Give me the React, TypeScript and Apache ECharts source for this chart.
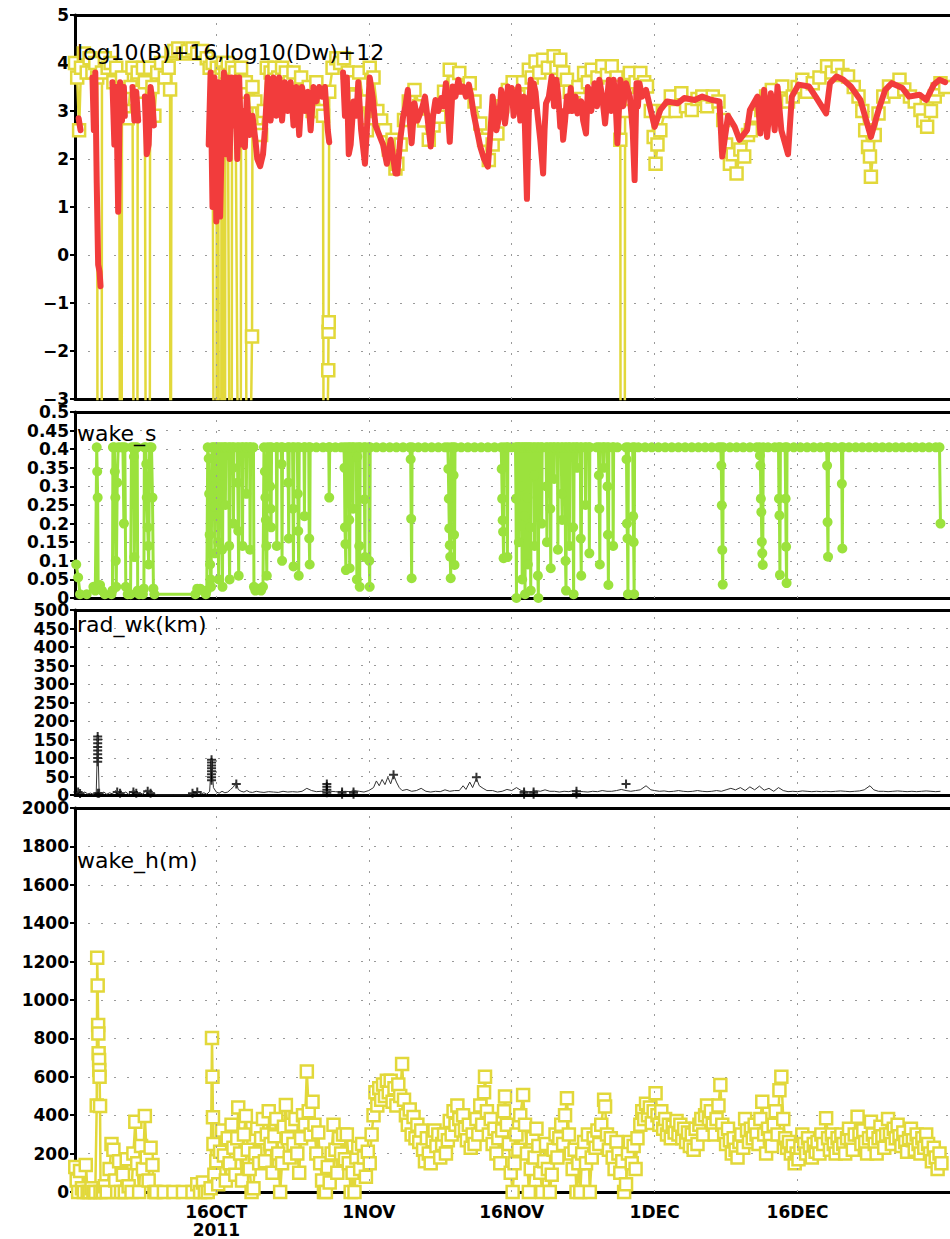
import React, { useEffect, useRef } from "react";
import * as echarts from "echarts";

// x values are days since 1 Oct 2011 00Z
const X_MIN = 0.17;
const X_MAX = 92;
const DATE_TICKS = [15, 31, 46, 61, 76];
const DATE_LABELS = ["16OCT\n2011", "1NOV", "16NOV", "1DEC", "16DEC"];

// log10(B)+16 (yellow squares)
const B_SERIES: [number, number | null][] = [
  [0.17,4.0],[0.4,3.7],[0.6,2.6],[0.8,3.9],[1.1,4.2],[1.4,3.8],[1.7,4.1],[2.0,3.8],[2.3,4.0],[2.5,3.7],[2.55,-10],[2.95,-10],[3.0,3.8],[3.3,4.1],[3.6,3.9],[3.9,4.0],[4.2,3.6],[4.5,3.9],[4.8,3.5],[4.95,-10],[5.05,-10],[5.1,3.7],[5.4,3.0],[5.7,2.85],[6.0,3.5],[6.2,3.9],[6.4,-10],[6.7,-10],[6.75,3.8],[7.0,3.4],[7.3,3.9],[7.5,3.6],[7.65,-10],[8.0,-10],[8.05,3.9],[8.3,3.5],[8.5,2.9],[8.8,3.8],[9.2,4.0],[9.6,3.7],[10.0,3.9],[10.15,3.45],[10.2,-10],[10.25,-10],[10.3,4.2],[10.6,4.25],[11.0,4.3],[11.5,4.2],[12.0,4.25],[12.5,4.3],[13.0,4.2],[13.5,4.25],[14.0,4.1],[14.3,3.9],[14.6,4.0],[14.8,-10],[15.0,-10],[15.05,3.9],[15.2,3.7],[15.3,-10],[15.5,-10],[15.55,3.9],[15.7,4.0],[15.8,-10],[15.9,-10],[15.95,3.8],[16.2,4.0],[16.5,-10],[16.6,-10],[16.65,3.9],[17.0,3.8],[17.45,-10],[17.55,-10],[17.6,3.9],[17.9,3.4],[18.1,3.6],[18.2,-10],[18.75,-1.7],[18.8,3.5],[19.1,3.2],[19.4,2.6],[19.7,2.5],[20.0,3.0],[20.3,3.9],[20.7,3.8],[21.1,3.9],[21.5,3.7],[21.9,3.9],[22.3,3.8],[22.7,3.6],[23.1,3.8],[23.5,3.3],[23.9,3.7],[24.3,3.2],[24.7,3.5],[25.1,3.0],[25.5,3.6],[25.9,3.0],[26.2,2.9],[26.3,-10],[26.75,-2.4],[26.78,-1.6],[26.8,-1.4],[26.85,3.4],[27.2,3.9],[27.6,4.1],[28.0,4.0],[28.4,4.1],[28.8,3.8],[29.2,3.6],[29.6,3.3],[30.0,3.8],[30.4,3.2],[30.8,2.6],[31.1,3.9],[31.5,3.7],[31.9,3.0],[32.3,2.8],[32.7,2.6],[33.1,2.2],[33.5,2.4],[33.8,1.8],
  [34.0,1.9],[34.35,2.3],[34.7,2.81],[35.2,3.2],[35.8,3.44],[36.3,3.1],[36.8,2.8],[37.3,2.4],[37.8,2.7],[38.4,2.88],[38.9,3.4],[39.5,3.86],[40.0,3.6],[40.5,3.79],[41.0,3.5],[41.6,3.58],[42.1,3.2],[42.7,2.74],[43.1,2.4],[43.6,1.98],[44.0,2.3],[44.5,2.53],[45.0,3.1],[45.6,3.44],[46.1,3.6],[46.7,3.3],[47.2,3.6],[47.8,3.86],[48.1,3.7],[48.5,4.03],[48.9,3.8],[49.3,4.07],[49.8,3.9],[50.4,4.14],[50.7,3.9],[51.1,4.07],[51.4,3.8],[51.8,3.65],[52.1,3.4],[52.5,3.16],[53.0,3.5],[53.6,3.79],[54.0,3.6],[54.4,3.86],[55.0,3.7],[55.5,3.93],[56.0,3.75],[56.5,3.93],[57.0,3.7],[57.3,3.5],[57.4,2.4],[57.45,-10],[57.85,-10],[57.9,3.0],[58.1,3.5],[58.4,3.79],[59.0,3.6],[59.5,3.79],[59.9,3.6],[60.2,3.51],[60.6,3.0],[60.9,2.46],[61.1,1.9],[61.3,2.3],[61.6,2.6],[62.1,3.0],[62.7,3.3],[63.2,3.0],[63.8,3.37],[64.3,3.1],[64.9,3.02],[65.5,3.25],[66.0,3.3],[66.5,3.1],[67.1,3.3],[67.7,3.2],[68.2,2.81],[68.5,2.3],[68.9,1.9],[69.2,2.1],[69.6,1.7],[70.0,2.2],[70.4,2.05],[70.8,2.5],[71.1,2.6],[71.6,2.9],[72.2,3.02],[72.7,3.3],[73.3,3.44],[73.8,3.2],[74.4,3.51],[75.0,3.2],[75.5,3.3],[76.0,3.5],[76.5,3.65],[77.0,3.4],[77.6,3.58],[78.3,3.7],[79.1,3.93],[79.6,3.8],[80.2,3.93],[80.7,3.75],[81.3,3.72],[81.9,3.5],[82.4,3.3],[82.8,3.0],[83.1,2.6],[83.4,2.25],[83.6,2.05],[83.7,1.63],[84.1,2.5],[84.5,2.95],[85.0,3.3],[85.6,3.51],[86.1,3.4],[86.7,3.65],[87.2,3.45],[87.8,3.3],[88.3,3.2],[88.9,3.02],[89.2,2.8],[89.6,2.67],[90.0,3.0],[90.4,3.3],[90.7,3.45],[91.0,3.58],[91.5,3.5]
];

// log10(Dw)+12 (red line)
const DW_SERIES: [number, number | null][] = [
  [0.55,2.85],[0.75,2.6],[1.0,null],
  [2.0,3.7],[2.15,2.6],[2.3,3.8],[2.45,1.5],[2.6,-0.2],[2.75,-0.35],[2.85,-0.65],[3.0,null],
  [4.1,3.6],[4.3,2.3],[4.5,3.5],[4.7,0.9],[4.9,3.6],[5.1,2.8],[5.3,3.5],[5.4,2.9],[5.6,null],
  [6.2,3.5],[6.4,2.8],[6.6,3.4],[6.8,2.8],[7.0,null],
  [7.5,3.3],[7.7,2.1],[7.9,2.3],[8.1,3.5],[8.3,3.2],[8.45,2.7],[8.7,null],
  [14.2,2.3],[14.4,3.8],[14.6,1.0],[14.8,3.7],[15.0,0.7],[15.2,3.6],[15.4,0.8],[15.6,2.7],[15.8,3.8],[16.0,2.1],[16.2,3.7],[16.4,2.0],[16.6,3.7],[16.8,2.7],[17.0,3.7],[17.2,2.0],[17.4,3.7],[17.6,2.3],[17.8,3.0],[18.0,2.25],[18.2,3.3],[18.5,2.5],[18.8,2.9],[19.1,2.4],[19.3,2.0],[19.6,1.85],[19.9,2.1],
  [20.1,2.6],[20.4,3.7],[20.7,2.8],[21.0,3.7],[21.3,2.9],[21.6,3.7],[21.9,2.8],[22.2,3.6],[22.5,3.0],[22.8,3.6],[23.1,2.7],[23.4,3.5],[23.7,2.5],[24.0,3.5],[24.3,3.0],[24.6,3.4],[24.9,2.6],[25.2,3.5],[25.5,3.2],[25.8,3.5],[26.1,3.3],[26.4,3.5],[26.7,2.6],[26.85,2.35],[27.0,null],
  [28.3,3.8],[28.5,2.9],[28.7,3.7],[28.9,2.1],[29.1,2.3],[29.4,3.2],[29.7,2.9],[29.9,3.6],[30.2,2.6],[30.6,1.9],[30.8,2.6],[31.1,3.7],[31.4,3.3],[31.7,2.7],[32.1,2.5],[32.5,2.3],[32.9,1.9],[33.3,2.4],[33.8,1.7],
  [34.0,1.7],[34.3,2.4],[34.6,2.88],[34.85,3.1],[35.1,3.44],[35.3,2.8],[35.5,2.33],[35.8,3.16],[36.1,2.8],[36.4,2.95],[36.65,3.1],[36.9,3.3],[37.2,2.8],[37.5,2.26],[37.75,2.9],[38.0,3.23],[38.3,3.0],[38.6,3.27],[38.85,3.1],[39.1,3.58],[39.3,3.0],[39.5,2.36],[39.8,3.51],[40.1,3.3],[40.4,3.65],[40.65,3.4],[40.9,3.51],[41.2,3.3],[41.5,3.55],[41.75,3.3],[42.0,2.95],[42.35,2.6],[42.7,2.26],[43.1,2.0],[43.5,1.84],[43.75,2.5],[44.0,3.3],[44.2,3.0],[44.4,2.6],[44.7,2.9],[44.9,3.44],[45.1,3.2],[45.3,2.74],[45.45,3.0],[45.6,3.51],[45.8,3.2],[46.0,3.48],[46.2,2.9],[46.4,3.16],[46.55,3.3],[46.7,3.51],[46.9,2.8],[47.1,3.02],[47.3,3.3],[47.6,1.17],[47.8,3.0],[48.0,3.65],[48.15,3.1],[48.3,3.58],[48.5,3.4],[48.7,2.95],[49.0,2.4],[49.3,1.7],[49.45,2.6],[49.6,3.16],[49.9,3.3],[50.2,3.72],[50.45,3.1],[50.7,3.65],[50.9,3.3],[51.1,2.67],[51.25,3.0],[51.4,2.4],[51.6,2.8],[51.8,3.3],[52.0,3.0],[52.2,3.48],[52.35,3.0],[52.5,3.23],[52.7,3.3],[52.9,2.95],[53.3,3.2],[53.5,2.8],[53.8,2.53],[54.0,3.5],[54.35,3.0],[54.7,3.58],[54.95,3.1],[55.2,3.65],[55.5,3.3],[55.8,2.74],[56.0,3.2],[56.2,3.65],[56.45,3.0],[56.7,3.65],[56.9,3.2],[57.1,2.33],[57.25,3.0],[57.4,3.65],[57.7,3.1],[58.0,3.58],[58.4,3.3],[58.7,2.6],[58.9,1.56],[59.1,3.58],[59.25,3.1],[59.4,3.58],[59.7,3.3],
  [60.1,3.44],[61.0,2.67],[61.6,3.02],[62.3,3.2],[63.4,3.16],[64.1,3.27],[65.2,3.23],[66.0,3.3],[67.0,3.23],[67.8,3.2],[68.1,2.05],[68.7,2.9],[69.4,2.67],[69.9,2.4],[70.7,2.6],[71.0,3.02],[71.8,3.3],[72.1,2.53],[72.5,3.44],[72.8,2.46],[73.2,3.37],[73.6,2.6],[73.9,3.51],[74.3,2.6],[75.0,2.1],[75.4,3.3],[76.1,3.55],[77.2,3.51],[77.9,3.3],[79.0,2.95],[79.4,3.58],[80.1,3.72],[80.8,3.65],[81.6,3.51],[82.6,3.23],[83.7,2.46],[84.5,3.02],[85.2,3.44],[85.9,3.58],[87.0,3.48],[87.7,3.3],[88.8,3.34],[89.5,3.23],[90.3,3.55],[90.9,3.65],[91.5,3.6]
];

// wake_s (green)
const WAKE_S: [number, number][] = [
  [0.3,0.09],[0.5,0.055],[0.7,0.01],[1.4,0.01],[2.1,0.03],[2.3,0.02],[2.45,0.405],[2.5,0.34],[2.55,0.27],[2.6,0.03],[2.8,0.035],[3.0,0.02],[3.3,0.01],
  [4.0,0.01],[4.1,0.02],[4.15,0.405],[4.3,0.405],[4.35,0.34],[4.4,0.27],[4.45,0.1],[4.5,0.03],[4.6,0.31],[4.7,0.405],[5.0,0.405],[5.2,0.405],[5.3,0.2],[5.4,0.405],[5.5,0.03],[5.7,0.01],
  [6.0,0.01],[6.1,0.405],[6.3,0.405],[6.35,0.38],[6.4,0.11],[6.5,0.405],[6.7,0.405],[6.75,0.02],[6.9,0.01],
  [7.3,0.01],[7.4,0.025],[7.45,0.405],[7.6,0.405],[7.65,0.36],[7.7,0.27],[7.8,0.19],[7.85,0.14],[7.9,0.09],[8.0,0.405],[8.2,0.405],[8.3,0.27],[8.4,0.025],[8.5,0.01],
  [12.8,0.01],[13.0,0.025],[13.3,0.025],[13.6,0.02],[13.9,0.01],
  [14.0,0.02],[14.1,0.405],[14.2,0.375],[14.25,0.28],[14.3,0.17],[14.35,0.09],[14.4,0.05],[14.45,0.03],[14.55,0.405],[14.7,0.405],[14.75,0.3],[14.8,0.245],[14.85,0.12],[14.9,0.405],[15.1,0.405],[15.15,0.29],[15.2,0.15],[15.25,0.05],[15.3,0.405],[15.5,0.405],[15.55,0.33],[15.6,0.13],[15.65,0.03],[15.7,0.405],[15.9,0.405],[15.95,0.25],[16.0,0.405],[16.3,0.405],[16.35,0.14],[16.4,0.05],[16.45,0.405],[16.7,0.405],[16.75,0.35],[16.8,0.2],[16.85,0.405],[17.2,0.405],[17.25,0.31],[17.3,0.18],[17.35,0.06],[17.4,0.405],[17.7,0.405],[17.75,0.14],[17.8,0.405],[18.1,0.405],[18.15,0.28],[18.2,0.405],[18.5,0.405],[18.55,0.13],[18.6,0.405],[18.9,0.405],[18.95,0.03],
  [19.1,0.02],[19.4,0.025],[19.7,0.02],[19.9,0.03],
  [20.0,0.405],[20.1,0.34],[20.15,0.27],[20.2,0.21],[20.25,0.14],[20.3,0.06],[20.35,0.405],[20.6,0.405],[20.65,0.3],[20.7,0.24],[20.75,0.19],[20.8,0.405],[21.3,0.405],[21.35,0.14],[21.4,0.405],[21.8,0.405],[21.85,0.36],[21.9,0.1],[21.95,0.405],[22.5,0.405],[22.55,0.31],[22.6,0.16],[22.65,0.405],[23.0,0.405],[23.05,0.24],[23.1,0.085],[23.15,0.405],[23.5,0.405],[23.55,0.28],[23.6,0.18],[23.65,0.06],[23.7,0.405],[24.2,0.405],[24.25,0.22],[24.3,0.405],[24.7,0.405],[24.75,0.16],[24.8,0.09],[24.85,0.405],
  [25.5,0.405],[26.2,0.405],[26.8,0.405],[26.85,0.27],[26.9,0.405],[27.5,0.405],[28.1,0.405],
  [28.4,0.405],[28.45,0.35],[28.5,0.19],[28.55,0.145],[28.6,0.075],[28.65,0.405],[28.9,0.405],[28.95,0.21],[29.0,0.08],[29.05,0.405],[29.3,0.405],[29.35,0.24],[29.4,0.405],[29.7,0.405],[29.75,0.05],[29.8,0.38],[29.95,0.405],[30.0,0.14],[30.05,0.03],[30.1,0.405],[30.5,0.405],[30.55,0.265],[30.6,0.11],[30.65,0.405],[31.0,0.405],[31.05,0.1],[31.1,0.03],[31.15,0.405],
  [31.8,0.405],[32.5,0.405],[33.2,0.405],[33.9,0.405],[34.6,0.405],[35.3,0.405],[35.4,0.373],[35.45,0.213],[35.5,0.053],[35.55,0.405],[36.2,0.405],[36.9,0.405],[37.6,0.405],[38.3,0.405],[39.0,0.405],[39.3,0.405],[39.35,0.347],[39.4,0.267],[39.45,0.187],[39.5,0.142],[39.55,0.111],[39.6,0.053],[39.65,0.405],[39.85,0.405],[39.9,0.33],[39.95,0.17],[40.0,0.089],[40.05,0.405],[40.7,0.405],[41.4,0.405],[42.1,0.405],[42.8,0.405],[43.5,0.405],[44.2,0.405],[44.9,0.405],[44.95,0.347],[45.0,0.267],[45.05,0.209],[45.1,0.178],[45.15,0.107],[45.2,0.405],[45.5,0.405],[45.55,0.11],[45.6,0.405],[46.0,0.405],
  [46.4,0.405],[46.45,0.267],[46.5,0.0],[46.55,0.405],[46.7,0.405],[46.75,0.15],[46.8,0.405],[47.0,0.405],[47.05,0.3],[47.1,0.05],[47.15,0.405],[47.3,0.405],[47.35,0.22],[47.4,0.01],[47.45,0.405],[47.6,0.405],[47.65,0.27],[47.7,0.09],[47.75,0.405],[47.9,0.405],[47.95,0.19],[48.0,0.02],[48.05,0.405],[48.3,0.405],[48.35,0.33],[48.4,0.14],[48.45,0.405],[48.7,0.405],[48.75,0.06],[48.8,0.0],[48.85,0.405],[49.1,0.405],[49.15,0.2],[49.2,0.405],
  [49.6,0.405],[49.65,0.3],[49.7,0.15],[49.75,0.405],[50.0,0.405],[50.05,0.24],[50.1,0.08],[50.15,0.405],[50.4,0.405],[50.45,0.32],[50.5,0.405],[50.8,0.405],[50.85,0.13],[50.9,0.405],[51.2,0.405],[51.25,0.28],[51.3,0.21],[51.35,0.405],[51.6,0.405],[51.65,0.1],[51.7,0.02],[51.75,0.405],[52.0,0.405],[52.05,0.14],[52.1,0.405],[52.4,0.405],[52.45,0.19],[52.5,0.01],[52.55,0.405],[52.8,0.405],[52.85,0.35],[52.9,0.405],[53.2,0.405],[53.25,0.16],[53.3,0.06],[53.35,0.405],[53.7,0.405],[53.75,0.25],[53.8,0.405],[54.1,0.405],[54.15,0.12],[54.2,0.405],
  [54.9,0.405],[55.1,0.405],[55.15,0.33],[55.2,0.24],[55.25,0.09],[55.3,0.405],[55.6,0.405],[55.65,0.35],[55.7,0.405],[56.0,0.405],[56.05,0.3],[56.1,0.17],[56.15,0.035],[56.2,0.405],[56.6,0.405],[56.65,0.14],[56.7,0.405],[57.1,0.405],
  [58.0,0.405],[58.05,0.373],[58.1,0.2],[58.15,0.16],[58.2,0.01],[58.25,0.405],[58.7,0.405],[58.75,0.22],[58.8,0.15],[58.85,0.01],[58.9,0.405],[59.3,0.405],
  [60.0,0.405],[60.7,0.405],[61.4,0.405],[62.1,0.405],[62.8,0.405],[63.5,0.405],[64.2,0.405],[64.9,0.405],[65.6,0.405],[66.3,0.405],[67.0,0.405],[67.7,0.405],[67.95,0.405],[68.0,0.356],[68.05,0.249],[68.1,0.129],[68.15,0.036],[68.2,0.405],[68.9,0.405],[69.6,0.405],[70.3,0.405],[71.0,0.405],[71.7,0.405],[72.0,0.405],[72.05,0.383],[72.1,0.356],[72.15,0.267],[72.2,0.231],[72.25,0.151],[72.3,0.12],[72.35,0.089],[72.4,0.405],[72.9,0.405],[73.6,0.405],[74.0,0.405],[74.05,0.267],[74.1,0.222],[74.15,0.062],[74.2,0.405],[74.7,0.405],[74.75,0.267],[74.8,0.138],[74.85,0.04],[74.9,0.405],[75.6,0.405],[76.3,0.405],[77.0,0.405],[77.7,0.405],[78.4,0.405],[79.05,0.405],[79.1,0.356],[79.15,0.204],[79.2,0.111],[79.25,0.405],[79.9,0.405],[80.6,0.405],[80.65,0.307],[80.7,0.133],[80.75,0.405],[81.4,0.405],[82.1,0.405],[82.8,0.405],[83.5,0.405],[84.2,0.405],[84.9,0.405],[85.6,0.405],[86.3,0.405],[87.0,0.405],[87.7,0.405],[88.4,0.405],[89.1,0.405],[89.8,0.405],[90.5,0.405],[90.9,0.405],[91.0,0.2]
];

// rad_wk (km)
const RAD_WK: [number, number][] = [
  [0.3,5],[0.6,12],[0.9,4],[1.2,8],[1.5,3],[1.8,5],[2.1,2],[2.4,8],[2.55,158],[2.7,10],[2.9,3],[3.2,8],[3.5,2],[3.8,6],[4.1,3],[4.4,12],[4.7,5],[4.9,15],[5.2,4],[5.5,8],[5.8,2],[6.1,10],[6.4,12],[6.7,3],[7.0,6],[7.3,2],[7.6,14],[7.9,8],[8.2,12],[8.5,3],[8.8,0],[10.5,0],[12.2,0],[12.5,5],[12.8,2],[13.1,8],[13.4,3],[13.7,6],[14.0,2],[14.3,10],[14.5,95],[14.7,20],[15.0,8],[15.3,5],[15.6,10],[15.9,6],[16.2,8],[16.5,15],[16.8,22],[17.1,35],[17.3,15],[17.6,10],[17.9,8],[18.2,12],[18.5,8],[18.8,7],[19.2,10],[19.6,8],[20.0,7],[20.5,9],[21.0,8],[21.5,7],[22.0,10],[22.5,8],[23.0,9],[23.5,8],[24.0,10],[24.5,18],[25.0,12],[25.5,9],[26.0,10],[26.5,8],[27.0,10],[27.5,9],[28.0,8],[28.5,10],[29.0,9],[29.5,12],[30.0,10],[30.5,8],[31.0,12],[31.5,20],[31.8,38],[32.1,25],[32.4,42],[32.7,28],[33.0,48],[33.3,30],[33.6,55],[33.9,35],[34.2,20],[34.5,12],[35.0,15],[35.5,10],[36.0,12],[36.5,18],[37.0,10],[37.5,8],[38.0,10],[38.5,9],[39.0,14],[39.5,10],[40.0,12],[40.5,12],[40.9,25],[41.2,15],[41.6,35],[41.9,20],[42.3,45],[42.6,25],[43.0,18],[43.4,12],[44.0,12],[44.5,8],[45.0,10],[45.5,15],[46.0,12],[46.5,20],[47.0,12],[47.5,10],[48.0,8],[48.5,12],[49.0,10],[49.5,14],[50.0,10],[50.5,10],[51.0,8],[51.5,10],[52.0,9],[52.5,12],[53.0,10],[53.5,9],[54.0,8],[54.5,10],[55.0,9],[55.5,12],[56.0,10],[56.5,10],[57.0,12],[57.5,15],[58.0,12],[58.5,10],[59.0,12],[59.5,14],[60.1,25],[60.6,14],[61.0,12],[61.5,10],[62.0,11],[62.5,9],[63.0,10],[63.5,12],[64.0,10],[64.5,9],[65.0,10],[65.5,12],[66.0,10],[66.5,9],[67.0,10],[67.5,12],[68.0,10],[68.5,14],[69.0,18],[69.5,14],[70.0,20],[70.5,12],[71.0,22],[71.5,14],[72.0,24],[72.5,13],[73.0,18],[73.5,10],[74.0,20],[74.5,12],[75.0,9],[75.5,10],[76.0,9],[76.5,11],[77.0,10],[77.5,9],[78.0,10],[78.5,9],[79.0,10],[79.5,9],[80.0,10],[80.5,11],[81.0,10],[81.5,9],[82.0,10],[82.5,11],[83.0,14],[83.6,25],[84.0,14],[84.5,10],[85.0,10],[85.5,9],[86.0,10],[86.5,11],[87.0,10],[87.5,9],[88.0,10],[88.5,9],[89.0,10],[89.5,11],[90.0,10],[90.5,9],[91.0,10]
];

// rad_wk point markers
const RAD_MARKS: [number, number][] = [
  [0.5,8],[0.7,4],[2.55,158],[2.55,150],[2.55,140],[2.55,130],[2.55,120],[2.55,110],[2.55,100],[2.55,90],[2.55,5],[2.7,5],[4.6,8],[4.9,5],[6.3,8],[6.6,5],[7.8,10],[8.1,5],[12.5,5],[13.0,8],[14.5,95],[14.5,88],[14.5,80],[14.5,72],[14.5,64],[14.5,56],[14.5,48],[14.5,40],[17.1,30],[26.6,30],[26.6,22],[26.6,14],[26.6,6],[28.2,8],[28.2,2],[29.4,8],[29.4,2],[33.6,55],[42.3,48],[47.3,8],[47.3,2],[48.3,8],[48.3,2],[52.8,10],[52.8,3],[58.0,30]
];

// wake_h (m)
const WAKE_H: [number, number][] = [
  [0.2,130],[0.35,60],[0.5,0],[0.7,110],[0.9,20],[1.1,0],[1.3,140],[1.5,0],[1.7,0],[1.9,20],[2.1,0],[2.3,0],
  [2.45,450],[2.5,1220],[2.55,1075],[2.6,870],[2.62,826],[2.65,723],[2.7,687],[2.72,635],[2.75,600],[2.8,448],[2.85,0],
  [3.1,0],[3.3,30],[3.5,0],[3.8,120],[4.0,250],[4.2,220],[4.4,60],[4.6,0],[4.8,160],[5.0,0],[5.2,90],[5.4,0],[5.6,170],[5.8,30],[6.1,0],[6.3,200],[6.5,366],[6.7,150],[6.9,0],[7.1,240],[7.3,120],[7.5,396],[7.7,180],[7.9,60],[8.1,230],[8.3,140],[8.5,0],[8.7,0],
  [9.5,0],[10.5,0],[11.5,0],[12.5,0],[13.0,40],[13.3,0],[13.6,50],[13.8,0],
  [14.1,0],[14.4,20],[14.55,802],[14.6,600],[14.65,389],[14.7,250],[14.8,90],[15.0,160],[15.2,40],[15.4,210],[15.6,320],[15.8,190],[16.0,60],[16.2,280],[16.4,150],[16.6,350],[16.8,230],[17.0,90],[17.2,280],[17.3,440],[17.5,200],[17.7,60],[17.9,300],[18.1,396],[18.3,220],[18.5,120],[18.7,0],[18.9,20],
  [19.1,200],[19.3,330],[19.5,150],[19.7,280],[19.9,380],[20.1,160],[20.3,300],[20.5,420],[20.7,250],[20.9,100],[21.1,290],[21.3,380],[21.5,200],[21.7,0],[21.9,150],[22.1,340],[22.3,453],[22.5,280],[22.7,180],[22.9,350],[23.1,250],[23.3,380],[23.5,200],[23.7,100],[23.9,280],
  [24.1,400],[24.3,350],[24.5,627],[24.7,420],[24.9,300],[25.1,470],[25.3,350],[25.5,200],[25.7,310],[25.9,150],[26.1,60],
  [26.3,0],[26.5,0],[26.7,130],[26.9,50],[27.1,200],[27.3,350],[27.5,220],[27.7,100],[27.9,280],[28.1,200],[28.3,300],[28.5,170],[28.7,300],[28.9,150],[29.1,0],[29.3,100],[29.5,0],[29.7,180],[29.9,230],[30.1,120],[30.3,250],[30.5,180],[30.7,80],[30.9,210],[31.1,150],[31.3,300],
  [31.5,400],[31.7,520],[31.9,450],[32.1,540],[32.3,480],[32.5,560],[32.7,500],[32.9,580],[33.1,520],[33.3,580],[33.5,470],[33.7,540],[33.9,450],[34.1,560],[34.3,500],[34.5,667],[34.7,480],[34.9,400],
  [35.1,350],[35.3,430],[35.5,300],[35.7,390],[35.9,280],[36.1,350],[36.3,260],[36.5,320],[36.7,220],[36.9,160],[37.1,280],[37.3,200],[37.5,150],[37.7,270],[37.9,320],[38.1,240],[38.3,300],[38.5,180],[38.7,250],[38.9,300],[39.1,200],[39.3,270],[39.5,370],[39.7,300],[39.9,420],[40.1,350],[40.3,450],[40.5,380],[40.7,320],[40.9,400],[41.1,330],[41.3,270],[41.5,350],[41.7,230],[41.9,300],[42.1,250],[42.3,380],[42.5,300],[42.7,450],[42.9,350],[43.1,520],[43.2,600],[43.4,420],[43.6,300],[43.8,380],[44.0,250],[44.2,330],[44.4,200],[44.6,280],[44.8,150],[45.0,320],[45.2,420],[45.3,497],[45.5,350],[45.7,250],
  [45.9,100],[46.1,0],[46.3,150],[46.5,300],[46.7,220],[46.9,400],[47.2,505],[47.4,350],[47.6,200],[47.8,0],[48.0,120],[48.2,280],[48.4,180],[48.6,330],[48.8,240],[49.0,100],[49.2,0],[49.4,160],[49.6,250],[49.8,120],[50.0,0],[50.2,90],
  [50.4,220],[50.6,300],[50.8,180],[51.0,280],[51.2,350],[51.4,250],[51.6,400],[51.8,488],[52.0,300],[52.2,200],[52.4,120],[52.6,220],[52.8,0],[53.0,150],[53.2,0],[53.4,200],[53.6,260],[53.8,150],[54.0,300],[54.2,0],[54.4,180],[54.6,280],[54.8,230],[55.0,320],[55.2,250],[55.4,350],[55.7,480],[55.8,445],[56.0,300],[56.2,220],[56.4,280],[56.6,180],[56.8,120],[57.0,260],[57.2,200],[57.4,100],[57.6,160],[57.8,0],[58.0,40],[58.2,200],[58.4,260],[58.6,150],[58.8,240],[59.0,120],[59.2,280],
  [59.5,350],[59.7,420],[59.9,380],[60.1,460],[60.3,400],[60.5,440],[60.7,360],[60.9,420],[61.1,514],[61.3,400],[61.5,350],[61.7,420],[61.9,330],[62.1,380],[62.3,300],[62.5,350],[62.7,280],[62.9,340],[63.1,310],[63.3,370],[63.5,300],[63.7,350],[63.9,280],[64.1,330],[64.3,260],[64.5,310],[64.7,240],
  [64.9,300],[65.1,220],[65.3,330],[65.5,250],[65.7,350],[65.9,380],[66.1,300],[66.3,400],[66.5,450],[66.7,380],[66.9,420],[67.1,350],[67.3,300],[67.5,380],[67.7,450],[67.9,557],[68.1,350],[68.3,300],[68.5,250],[68.7,330],[68.9,270],[69.1,200],[69.3,280],[69.5,220],[69.7,180],[69.9,260],[70.1,300],[70.3,230],[70.5,380],[70.7,320],[70.9,260],[71.1,330],[71.3,280],[71.5,350],[71.7,300],[71.9,250],[72.1,380],[72.3,470],[72.5,300],[72.7,200],[72.9,330],[73.1,280],[73.3,240],[73.5,350],[73.7,420],[73.9,300],[74.1,530],[74.3,600],[74.5,380],[74.7,280],[74.9,230],[75.1,260],[75.3,200],[75.5,240],[75.7,150],[75.9,200],[76.1,170],[76.3,230],[76.5,300],[76.7,250],[76.9,200],[77.1,280],[77.3,230],[77.5,180],[77.7,250],[77.9,210],[78.1,260],[78.3,200],[78.5,300],[78.7,250],[79.0,384],[79.2,280],[79.4,220],[79.6,300],[79.8,250],[80.0,200],
  [80.2,280],[80.4,230],[80.6,300],[80.8,250],[81.0,200],[81.2,280],[81.4,330],[81.6,270],[81.8,220],[82.0,300],[82.3,392],[82.5,300],[82.7,250],[82.9,320],[83.1,260],[83.3,200],[83.5,280],[83.7,366],[83.9,300],[84.1,250],[84.3,200],[84.5,280],[84.7,340],[84.9,290],[85.1,230],[85.3,300],[85.5,380],[85.7,300],[85.9,250],[86.1,330],[86.3,280],[86.5,350],[86.7,290],[86.9,240],[87.1,310],[87.3,260],[87.5,210],[87.7,280],[87.9,330],[88.1,270],[88.3,220],[88.5,300],[88.7,250],[88.9,200],[89.1,280],[89.3,230],[89.5,300],[89.7,250],[89.9,200],[90.1,160],[90.3,230],[90.5,180],[90.7,120],[90.9,200],[91.1,150]
];

const PANEL_TITLES = ["log10(B)+16,log10(Dw)+12", "wake_s", "rad_wk(km)", "wake_h(m)"];

const YELLOW = "#e2d83a";
const RED = "#f23c3c";
const GREEN = "#9be23d";
const GRID_GRAY = "#9a9a9a";
const TICK_FONT = "DejaVu Sans";

const toData = (arr: [number, number | null][]) => arr.map(([d, v]) => [d, v === null ? "-" : v]);

export default function App() {
  const ref = useRef<HTMLDivElement>(null);
  useEffect(() => {
    document.body.style.margin = "0";
    if (!ref.current) return;
    const chart = echarts.init(ref.current, null, { renderer: "svg" });

    const grids = [
      { left: 75, right: -10, top: 15, height: 384 },
      { left: 75, right: -10, top: 412, height: 186 },
      { left: 75, right: -10, top: 610, height: 185 },
      { left: 75, right: -10, top: 808, height: 384 },
    ];

    const xAxes: any[] = [];
    grids.forEach((_, i) => {
      const isLast = i === grids.length - 1;
      xAxes.push({
        type: "value", gridIndex: i, min: X_MIN, max: X_MAX, position: "bottom",
        axisLine: { show: true, onZero: false, lineStyle: { color: "#000", width: 3 } },
        axisTick: { show: false },
        splitLine: { show: false },
        axisLabel: isLast
          ? {
              show: true, customValues: DATE_TICKS, color: "#000",
              fontFamily: TICK_FONT, fontWeight: "bold", fontSize: 17, lineHeight: 18, margin: 11,
              formatter: (v: number) => {
                const k = DATE_TICKS.indexOf(Math.round(v));
                return k >= 0 ? DATE_LABELS[k] : "";
              },
            }
          : { show: false },
      });
      xAxes.push({
        type: "value", gridIndex: i, min: X_MIN, max: X_MAX, position: "top",
        axisLine: { show: true, onZero: false, lineStyle: { color: "#000", width: 3 } },
        axisTick: { show: false }, axisLabel: { show: false }, splitLine: { show: false },
      });
    });

    const yAxis = (i: number, min: number, max: number, interval: number) => ({
      type: "value", gridIndex: i, min, max, interval,
      axisLine: { show: true, onZero: false, lineStyle: { color: "#000", width: 3 } },
      axisTick: { show: true, inside: false, length: 5, lineStyle: { color: "#000", width: 2 } },
      axisLabel: {
        color: "#000", fontFamily: TICK_FONT, fontWeight: "bold", fontSize: 17, lineHeight: 11, margin: 6,
        showMinLabel: true, showMaxLabel: true,
        formatter: (v: number) => String(parseFloat(v.toFixed(2))).replace("-", "\u2212"),
      },
      splitLine: { show: true, lineStyle: { color: GRID_GRAY, type: [2, 11], width: 1 } },
    });

    const vLines = {
      silent: true, symbol: ["none", "none"], label: { show: false },
      lineStyle: { color: GRID_GRAY, type: [2, 9], width: 1 },
      emphasis: { disabled: true },
      data: DATE_TICKS.map((d) => ({ xAxis: d })),
    };

    const squareStyle = {
      symbol: "rect", symbolSize: 12,
      itemStyle: { color: "#ffffff", borderColor: YELLOW, borderWidth: 2.5 },
      lineStyle: { color: YELLOW, width: 2.5 },
    };

    const option: any = {
      animation: false,
      backgroundColor: "#ffffff",
      grid: grids,
      xAxis: xAxes,
      yAxis: [yAxis(0, -3, 5, 1), yAxis(1, 0, 0.5, 0.05), yAxis(2, 0, 500, 50), yAxis(3, 0, 2000, 200)],
      series: [
        {
          type: "line", name: "log10(B)+16", xAxisIndex: 0, yAxisIndex: 0, silent: true, z: 2,
          data: toData(B_SERIES), clip: true, ...squareStyle, markLine: vLines,
        },
        {
          type: "line", name: "log10(Dw)+12", xAxisIndex: 0, yAxisIndex: 0, silent: true, z: 5,
          data: toData(DW_SERIES), symbol: "none", connectNulls: false, clip: true,
          lineStyle: { color: RED, width: 6, join: "round", cap: "round" },
        },
        {
          type: "line", name: "wake_s", xAxisIndex: 2, yAxisIndex: 1, silent: true,
          data: WAKE_S, symbol: "circle", symbolSize: 10, clip: true,
          itemStyle: { color: GREEN }, lineStyle: { color: GREEN, width: 3 }, markLine: vLines,
        },
        {
          type: "line", name: "rad_wk", xAxisIndex: 4, yAxisIndex: 2, silent: true,
          data: RAD_WK, symbol: "none", clip: true,
          lineStyle: { color: "#333", width: 1 }, markLine: vLines,
        },
        {
          type: "scatter", name: "rad_wk marks", xAxisIndex: 4, yAxisIndex: 2, silent: true,
          data: RAD_MARKS, symbol: "path://M0,5L10,5M5,0L5,10", symbolSize: 9,
          itemStyle: { color: "none", borderColor: "#000", borderWidth: 2 },
        },
        {
          type: "line", name: "wake_h", xAxisIndex: 6, yAxisIndex: 3, silent: true,
          data: WAKE_H, clip: true, ...squareStyle, markLine: vLines,
        },
      ],
      graphic: [
        { type: "text", x: 77, y: 52, z: 100, style: { text: PANEL_TITLES[0], font: "22px DejaVu Sans", fill: "#000", textVerticalAlign: "middle", verticalAlign: "middle" } },
        { type: "text", x: 77, y: 433, z: 100, style: { text: PANEL_TITLES[1], font: "22px DejaVu Sans", fill: "#000", textVerticalAlign: "middle", verticalAlign: "middle" } },
        { type: "text", x: 77, y: 624, z: 100, style: { text: PANEL_TITLES[2], font: "22px DejaVu Sans", fill: "#000", textVerticalAlign: "middle", verticalAlign: "middle" } },
        { type: "text", x: 77, y: 860, z: 100, style: { text: PANEL_TITLES[3], font: "22px DejaVu Sans", fill: "#000", textVerticalAlign: "middle", verticalAlign: "middle" } },
      ],
    };

    chart.setOption(option);
    return () => chart.dispose();
  }, []);

  return <div ref={ref} style={{ width: 950, height: 1239, overflow: "hidden" }} />;
}
